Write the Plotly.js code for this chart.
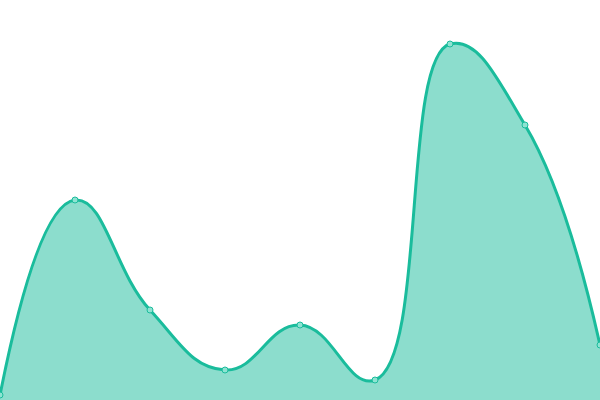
<!DOCTYPE html>
<html>
<head>
<meta charset="utf-8">
<script src="https://cdn.plot.ly/plotly-3.0.1.min.js"></script>
<style>
  html, body { margin: 0; padding: 0; background: #fff; }
  #chart { width: 600px; height: 400px; }
</style>
</head>
<body>
<div id="chart"></div>
<script>
// Values (plot height = 400 units).
const xValues = [0, 1, 2, 3, 4, 5, 6, 7, 8];
const yValues = [5, 200, 90, 30, 75, 20, 356, 275, 55];

const lineColor = '#1abc9c';
const fillColor = 'rgba(26, 188, 156, 0.5)';

const data = [{
  x: xValues,
  y: yValues,
  type: 'scatter',
  mode: 'lines+markers',
  fill: 'tozeroy',
  fillcolor: fillColor,
  line: {
    shape: 'spline',
    smoothing: 1.3,
    color: lineColor,
    width: 3
  },
  marker: {
    size: 6,
    color: '#8ee3d2',
    line: { color: lineColor, width: 1 }
  },
  hoverinfo: 'none'
}];

const layout = {
  width: 600,
  height: 400,
  margin: { l: 0, r: 0, t: 0, b: 0 },
  paper_bgcolor: '#fff',
  plot_bgcolor: '#fff',
  showlegend: false,
  xaxis: { range: [0, 8], visible: false, fixedrange: true },
  yaxis: { range: [0, 400], visible: false, fixedrange: true }
};

Plotly.newPlot('chart', data, layout, { displayModeBar: false, staticPlot: true });
</script>
</body>
</html>
